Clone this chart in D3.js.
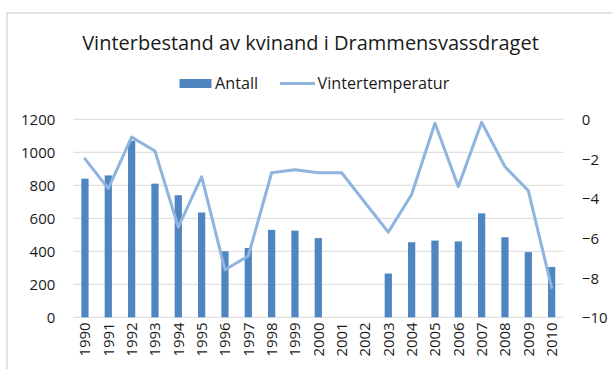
<!DOCTYPE html>
<html>
<head>
<meta charset="utf-8">
<script src="https://cdn.jsdelivr.net/npm/d3@7"></script>
<style>
  html, body { margin: 0; padding: 0; background: #fff; }
  svg { display: block; }
  text { font-family: "Open Sans", Lato, sans-serif; fill: #1a1a1a; }
</style>
</head>
<body>
<svg id="chart" width="612" height="369"></svg>
<script>
// Vinterbestand av kvinand (antall) og vintertemperatur, 1990–2010
const years = ["1990","1991","1992","1993","1994","1995","1996","1997","1998","1999","2000",
               "2001","2002","2003","2004","2005","2006","2007","2008","2009","2010"];
const antall = [840, 860, 1070, 810, 740, 635, 400, 420, 530, 525, 480,
                null, null, 265, 455, 465, 460, 630, 485, 395, 305];
const vintertemperatur = [-2.0, -3.5, -0.9, -1.6, -5.45, -2.9, -7.6, -6.9, -2.7, -2.55, -2.7,
                          -2.7, -4.2, -5.7, -3.8, -0.2, -3.4, -0.15, -2.4, -3.6, -8.5];
const leftTicks = [0, 200, 400, 600, 800, 1000, 1200];
const rightTicks = [0, -2, -4, -6, -8, -10];

const svg = d3.select("#chart");
const W = 612, H = 369;
const plot = { left: 73.3, right: 563.3, top: 119.3, bottom: 317.3 };

const barColor = "#4f86bf";
const lineColor = "#8fb4df";
const gridColor = "#d9d9d9";

// Outer chart border
svg.append("rect")
  .attr("x", 7).attr("y", 13)
  .attr("width", W).attr("height", H)
  .attr("fill", "none").attr("stroke", gridColor).attr("stroke-width", 1.5);

const x = d3.scaleBand().domain(years).range([plot.left, plot.right]).paddingInner(0.69).paddingOuter(0.345);
const yL = d3.scaleLinear().domain([0, 1200]).range([plot.bottom, plot.top]);
const yR = d3.scaleLinear().domain([-10, 0]).range([plot.bottom, plot.top]);

// Gridlines
svg.append("g").selectAll("line").data(leftTicks).join("line")
  .attr("x1", plot.left).attr("x2", plot.right)
  .attr("y1", d => yL(d)).attr("y2", d => yL(d))
  .attr("stroke", gridColor).attr("stroke-width", 1);

// Left axis (Antall)
const leftAxis = svg.append("g")
  .attr("transform", `translate(${plot.left - 18},0)`)
  .call(d3.axisLeft(yL).tickValues(leftTicks).tickFormat(d3.format("d")).tickSize(0).tickPadding(0));
leftAxis.select(".domain").remove();
leftAxis.selectAll("text").style("font-size", "15px").style("font-family", "'Open Sans', sans-serif")
  .attr("fill", "#1a1a1a").attr("dy", "0.36em");

// Right axis (temperatur)
const rightAxis = svg.append("g")
  .attr("transform", `translate(${plot.right + 18.5},0)`)
  .call(d3.axisRight(yR).tickValues(rightTicks).tickFormat(d3.format("d")).tickSize(0).tickPadding(0));
rightAxis.select(".domain").remove();
rightAxis.selectAll("text").style("font-size", "15px").style("font-family", "'Open Sans', sans-serif")
  .attr("fill", "#1a1a1a").attr("dy", "0.36em");

// Bottom axis: rotated year labels
const bottomAxis = svg.append("g")
  .attr("transform", `translate(0,${plot.bottom})`)
  .call(d3.axisBottom(x).tickSize(0).tickPadding(0));
bottomAxis.select(".domain").remove();
bottomAxis.selectAll("text")
  .style("font-size", "15px").style("font-family", "'Open Sans', sans-serif")
  .attr("fill", "#1a1a1a")
  .attr("text-anchor", "end")
  .attr("transform", "translate(0,5) rotate(-90)")
  .attr("x", 0).attr("y", 0).attr("dy", "0.36em");

// Bars
svg.append("g").selectAll("rect")
  .data(years.map((yr, i) => ({ yr, v: antall[i] })).filter(d => d.v != null))
  .join("rect")
  .attr("x", d => x(d.yr))
  .attr("width", x.bandwidth())
  .attr("y", d => yL(d.v))
  .attr("height", d => yL(0) - yL(d.v))
  .attr("fill", barColor);

// Temperature line
const line = d3.line()
  .x((d, i) => x(years[i]) + x.bandwidth() / 2)
  .y(d => yR(d));
svg.append("path")
  .datum(vintertemperatur)
  .attr("d", line)
  .attr("fill", "none")
  .attr("stroke", lineColor)
  .attr("stroke-width", 3)
  .attr("stroke-linejoin", "round")
  .attr("stroke-linecap", "round");

// Title
svg.append("text")
  .attr("x", 310.5).attr("y", 50)
  .attr("text-anchor", "middle")
  .style("font-size", "20px")
  .text("Vinterbestand av kvinand i Drammensvassdraget");

// Legend
const lg = svg.append("g");
lg.append("rect").attr("x", 179.5).attr("y", 79).attr("width", 32).attr("height", 9).attr("fill", barColor);
lg.append("text").attr("x", 215).attr("y", 89).style("font-size", "16.2px").text("Antall");
lg.append("line").attr("x1", 280).attr("x2", 315).attr("y1", 83.5).attr("y2", 83.5)
  .attr("stroke", lineColor).attr("stroke-width", 3);
lg.append("text").attr("x", 317.5).attr("y", 89).style("font-size", "16.2px").text("Vintertemperatur");
</script>
</body>
</html>
